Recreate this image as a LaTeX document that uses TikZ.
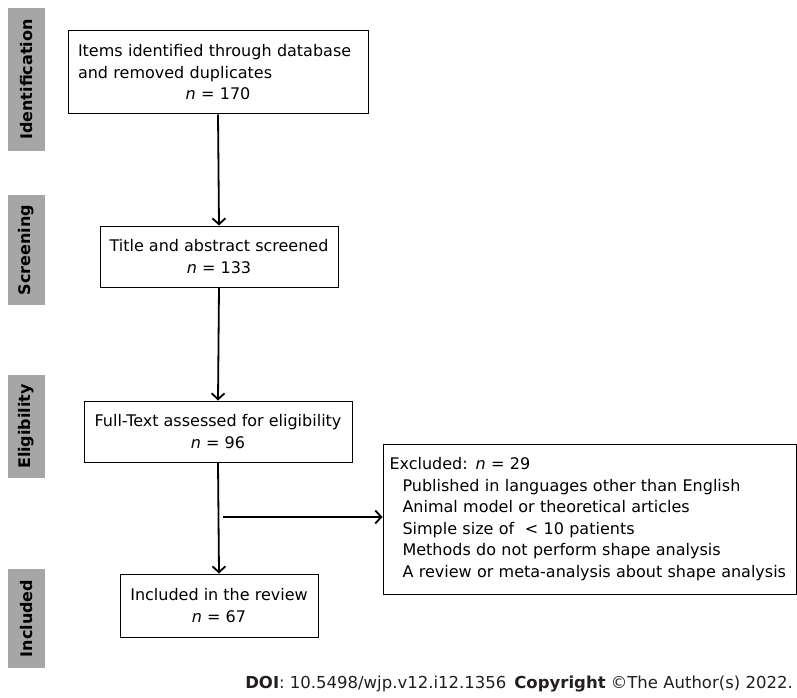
\documentclass[tikz,border=0pt]{standalone}
\usepackage{fontspec}
\setmainfont{DejaVu Sans}
\usetikzlibrary{arrows.meta}
\definecolor{doiink}{HTML}{231F20}

\tikzset{
  stage/.style={fill=black!35, minimum height=37pt, inner sep=0pt,
    rotate=90, font=\fontsize{16}{18}\selectfont\bfseries},
  stepbox/.style={draw, line width=1pt, inner sep=0pt, align=center,
    font=\fontsize{16}{21.5}\selectfont},
  flow/.style={line width=1.8pt, -{Straight Barb[length=6pt,width=13pt,line width=1.8pt]}}
}

\begin{document}
\begin{tikzpicture}[x=1pt,y=-1pt]
  \useasboundingbox (0,0) rectangle (797,698);

  % stages
  \node[stage, minimum width=143pt] (ident) at (26.5,79.5) {Identification};
  \node[stage, minimum width=110pt] (screen) at (26.5,250) {Screening};
  \node[stage, minimum width=103pt] (elig) at (26.5,426.5) {Eligibility};
  \node[stage, minimum width=99pt] (incl) at (26.5,618.5) {Included};

  % boxes
  \node[stepbox, minimum width=300pt, minimum height=83pt, text width=280pt, align=left]
    (items) at (218,72.5)
    {Items identified through database\\and removed duplicates\\
    \makebox[\linewidth]{\textit{n} = 170}};
  \node[stepbox, minimum width=238pt, minimum height=61pt] (title) at (219,256.5)
    {Title and abstract screened\\\textit{n} = 133};
  \node[stepbox, minimum width=268pt, minimum height=61pt] (full) at (218,431.5)
    {Full-Text assessed for eligibility\\\textit{n} = 96};
  \node[stepbox, minimum width=198pt, minimum height=63pt] (review) at (219,605.5)
    {Included in the review\\\textit{n} = 67};
  \node[stepbox, minimum height=150pt, text width=400pt, inner xsep=6.5pt, align=left]
    (excl) at (589.5,519)
    {Excluded: \textit{n} = 29\\
    \hspace*{13pt}Published in languages other than English\\
    \hspace*{13pt}Animal model or theoretical articles\\
    \hspace*{13pt}Simple size of~ {<} 10 patients\\
    \hspace*{13pt}Methods do not perform shape analysis\\
    \hspace*{13pt}A review or meta-analysis about shape analysis};

  % arrows
  \draw[flow] (items.south) -- (title.north);
  \draw[flow] (title.south) -- (full.north);
  \draw[flow] (full.south) -- (review.north);
  \coordinate (split) at (223,517);
  \draw[flow] (split) -- (split -| excl.west);

  \node[anchor=base east, inner sep=0pt, text=doiink,
    font=\fontsize{16.5}{18}\selectfont] (doi) at (793,688)
    {\textbf{DOI}: 10.5498/wjp.v12.i12.1356\hspace{8pt}\textbf{Copyright} ©The Author(s) 2022.};
\end{tikzpicture}
\end{document}
